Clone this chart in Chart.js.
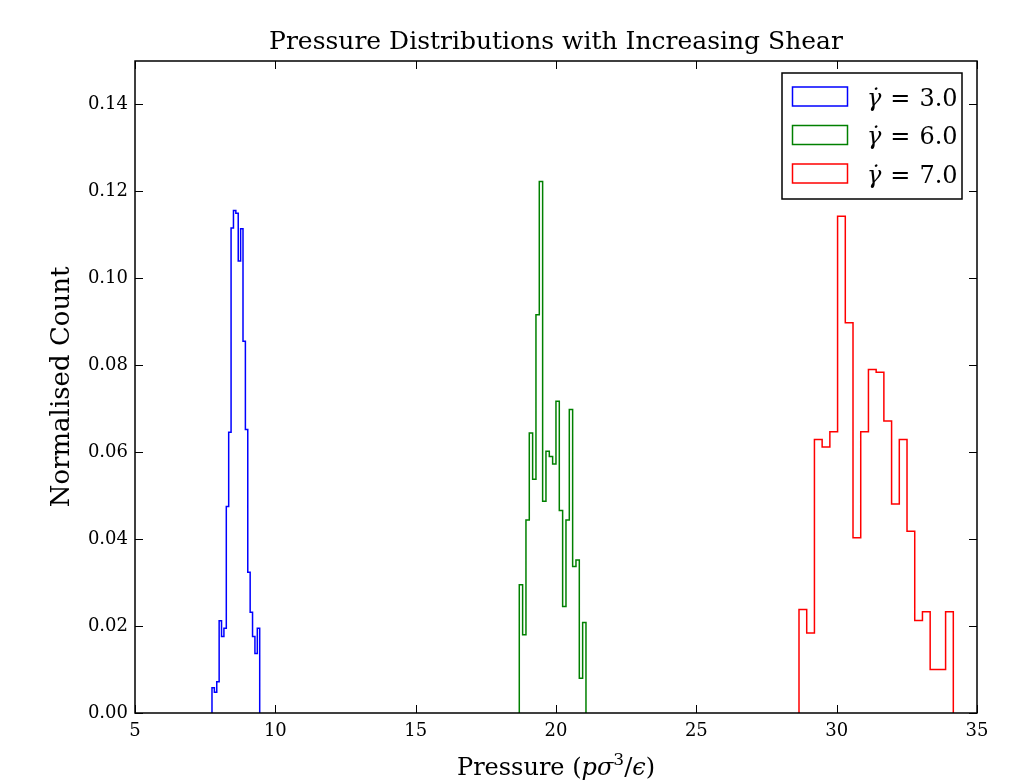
<!DOCTYPE html>
<html>
<head>
<meta charset="utf-8">
<script src="https://cdn.jsdelivr.net/npm/chart.js@4.4.1/dist/chart.umd.min.js"></script>
<style>
  html, body { margin: 0; padding: 0; background: #fff; }
</style>
</head>
<body>
<canvas id="pressureChart" width="1021" height="783"></canvas>
<script>
// Histograms of pressure, 20 bins each: first bin edge, bin width, normalised counts
const shearRates = ['3.0', '6.0', '7.0'];
const binStart = [7.743, 18.692, 28.658];
const binWidth = [0.085, 0.1188, 0.2749];
const countsShear3 = [0.0058, 0.0048, 0.0072, 0.0212, 0.0176, 0.0195, 0.0475, 0.0646, 0.1116, 0.1156,
                      0.1150, 0.1040, 0.1114, 0.0855, 0.0652, 0.0324, 0.0232, 0.0176, 0.0137, 0.0195];
const countsShear6 = [0.0295, 0.0180, 0.0444, 0.0644, 0.0538, 0.0916, 0.1223, 0.0487, 0.0602, 0.0590,
                      0.0573, 0.0717, 0.0466, 0.0245, 0.0444, 0.0698, 0.0337, 0.0352, 0.0080, 0.0208];
const countsShear7 = [0.0238, 0.0184, 0.0629, 0.0612, 0.0647, 0.1143, 0.0898, 0.0403, 0.0647, 0.0790,
                      0.0784, 0.0672, 0.0481, 0.0629, 0.0418, 0.0213, 0.0233, 0.0100, 0.0100, 0.0233];
const lineColors = ['#0000ff', '#008000', '#ff0000'];
const xTicks = [5, 10, 15, 20, 25, 30, 35];
const yTicks = [0, 0.02, 0.04, 0.06, 0.08, 0.10, 0.12, 0.14];

const serif = '"DejaVu Serif", "Liberation Serif", serif';

// outline of a step histogram: up at the first edge, across each bin, down at the last edge
function stepPoints(start, width, counts) {
    const pts = [{ x: start, y: 0 }];
    counts.forEach((c, i) => pts.push({ x: start + i * width, y: c }));
    pts.push({ x: start + counts.length * width, y: 0 });
    return pts;
}

const seriesCounts = [countsShear3, countsShear6, countsShear7];
const datasets = shearRates.map((rate, i) => ({
    label: rate,
    data: stepPoints(binStart[i], binWidth[i], seriesCounts[i]),
    borderColor: lineColors[i],
    borderWidth: 1.5,
    pointRadius: 0,
    fill: false,
    stepped: 'before'
}));

// matplotlib-like frame: full box, inward ticks on all sides, x label, legend box
const framePlugin = {
    id: 'frame',
    afterLayout(chart) {
        // centre the title over the axes rather than the whole canvas
        const t = chart.titleBlock;
        if (t) {
            t.left = chart.chartArea.left;
            t.right = chart.chartArea.right;
            t.width = t.right - t.left;
        }
    },
    afterDatasetsDraw(chart) {
        const { ctx, chartArea: a, scales: { x, y } } = chart;
        ctx.save();
        ctx.strokeStyle = '#000';
        ctx.lineWidth = 1;
        const tl = 8;
        x.ticks.forEach(t => {
            const px = Math.round(x.getPixelForValue(t.value)) + 0.5;
            ctx.beginPath();
            ctx.moveTo(px, a.bottom); ctx.lineTo(px, a.bottom - tl);
            ctx.moveTo(px, a.top); ctx.lineTo(px, a.top + tl);
            ctx.stroke();
        });
        y.ticks.forEach(t => {
            const py = Math.round(y.getPixelForValue(t.value)) + 0.5;
            ctx.beginPath();
            ctx.moveTo(a.left, py); ctx.lineTo(a.left + tl, py);
            ctx.moveTo(a.right, py); ctx.lineTo(a.right - tl, py);
            ctx.stroke();
        });
        ctx.lineWidth = 1.5;
        ctx.strokeRect(a.left, a.top, a.right - a.left, a.bottom - a.top);

        // legend
        const bw = 180, bh = 126;
        const bx = a.right - 15 - bw, by = a.top + 12;
        ctx.fillStyle = '#fff';
        ctx.fillRect(bx, by, bw, bh);
        ctx.strokeRect(bx, by, bw, bh);
        ctx.textBaseline = 'alphabetic';
        chart.data.datasets.forEach((ds, i) => {
            const cy = by + 23.5 + i * 38.5;
            ctx.strokeStyle = ds.borderColor;
            ctx.lineWidth = 1.5;
            ctx.strokeRect(bx + 10.5, cy - 9.5, 55, 19);
            ctx.fillStyle = '#000';
            ctx.font = 'italic 24px ' + serif;
            const gx = bx + 85;
            ctx.fillText('\u03b3\u0307', gx, cy + 9);
            const gw = ctx.measureText('\u03b3').width;
            ctx.font = '24px ' + serif;
            const eq = ctx.measureText('=').width;
            ctx.fillText('=', gx + gw + 9, cy + 9);
            ctx.fillText(ds.label, gx + gw + 9 + eq + 9, cy + 9);
        });

        // x axis label with italic symbols
        const parts = [
            ['Pressure (', '', 0],
            ['p\u03c3', 'italic ', 0],
            ['3', '', 1],
            ['/', '', 0],
            ['\u03f5', 'italic ', 0],
            [')', '', 0]
        ];
        const fontFor = p => p[2] ? '17px ' + serif : p[1] + '24px ' + serif;
        let total = 0;
        parts.forEach(p => { ctx.font = fontFor(p); total += ctx.measureText(p[0]).width; });
        let tx = (a.left + a.right) / 2 - total / 2;
        const base = 775;
        ctx.fillStyle = '#000';
        parts.forEach(p => {
            ctx.font = fontFor(p);
            ctx.fillText(p[0], tx, p[2] ? base - 10 : base);
            tx += ctx.measureText(p[0]).width;
        });
        ctx.restore();
    }
};

const ctx = document.getElementById('pressureChart').getContext('2d');
const chart = new Chart(ctx, {
    type: 'line',
    data: { datasets },
    options: {
        responsive: false,
        animation: false,
        layout: { padding: { left: 0, right: 44, top: 0, bottom: 0 } },
        plugins: {
            legend: { display: false },
            tooltip: { enabled: false },
            title: {
                display: true,
                text: 'Pressure Distributions with Increasing Shear',
                color: '#000',
                font: { family: serif, size: 25, weight: 'normal' },
                padding: { top: 27, bottom: 4 }
            }
        },
        scales: {
            x: {
                type: 'linear',
                min: 5,
                max: 35,
                afterFit: s => { s.height = 70; },
                afterBuildTicks: s => { s.ticks = xTicks.map(v => ({ value: v })); },
                ticks: { color: '#000', font: { family: serif, size: 18 }, padding: 8, maxRotation: 0 },
                grid: { display: false, drawTicks: false },
                border: { display: false }
            },
            y: {
                min: 0,
                max: 0.15,
                afterFit: s => { s.width = 135; },
                afterBuildTicks: s => { s.ticks = yTicks.map(v => ({ value: v })); },
                ticks: { color: '#000', font: { family: serif, size: 18 }, padding: 7, callback: v => v.toFixed(2) },
                grid: { display: false, drawTicks: false },
                border: { display: false },
                title: {
                    display: true,
                    text: 'Normalised Count',
                    color: '#000',
                    font: { family: serif, size: 26 },
                    padding: { top: 47, bottom: 0 }
                }
            }
        }
    },
    plugins: [framePlugin]
});
</script>
</body>
</html>
